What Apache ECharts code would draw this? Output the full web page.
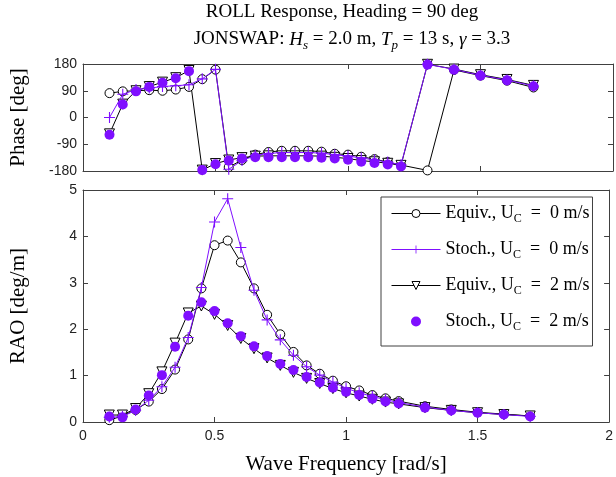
<!DOCTYPE html>
<html>
<head>
<meta charset="utf-8">
<script src="https://cdn.jsdelivr.net/npm/echarts@6/dist/echarts.min.js"></script>
<style>
  html, body { margin: 0; padding: 0; background: #fff; }
  #chart { width: 616px; height: 477px; }
</style>
</head>
<body>
<div id="chart"></div>
<script>
// Wave frequencies [rad/s]
const freq = [0.1, 0.15, 0.2, 0.25, 0.3, 0.35, 0.4, 0.45, 0.5, 0.55, 0.6, 0.65, 0.7, 0.75,
              0.8, 0.85, 0.9, 0.95, 1.0, 1.05, 1.1, 1.15, 1.2, 1.3, 1.4, 1.5, 1.6, 1.7];

// Roll phase [deg]
const phaseEquiv0 = [82, 88, 90, 92, 90, 94, 103, 129, 161, -167, -143, -125, -116, -112,
                     -112, -112, -115, -122, -125, -132, -140, -150, -160, -178, 160, 141, 124, 101];
const phaseStoch0 = [0, 78, 94, 99, 104, 107, 110, 130, 162, -174, -145, -128, -121, -118,
                     -118, -118, -120, -125, -130, -136, -143, -150, -159, 179, 162, 142, 126, 106];
const phaseEquiv2 = [-55, 45, 90, 104, 119, 134, 158, -177, -155, -143, -135, -130, -129, -129,
                     -129, -129, -130, -134, -138, -145, -149, -154, -161, 179, 163, 144, 128, 108];
const phaseStoch2 = [-58, 44, 88, 103, 117, 132, 156, -177, -157, -145, -138, -134, -134, -134,
                     -134, -134, -135, -138, -142, -149, -153, -158, -165, 178, 161, 141, 125, 105];

// Roll RAO [deg/m]
const raoEquiv0 = [0.04, 0.13, 0.26, 0.44, 0.71, 1.13, 1.78, 2.88, 3.81, 3.91, 3.44, 2.88, 2.31, 1.89,
                   1.51, 1.22, 1.04, 0.89, 0.77, 0.68, 0.58, 0.51, 0.45, 0.34, 0.27, 0.21, 0.17, 0.13];
const raoStoch0 = [0.10, 0.12, 0.25, 0.47, 0.76, 1.18, 1.82, 2.90, 4.31, 4.81, 3.76, 2.84, 2.20, 1.77,
                   1.44, 1.19, 1.01, 0.86, 0.73, 0.63, 0.55, 0.48, 0.42, 0.32, 0.25, 0.20, 0.16, 0.12];
const raoEquiv2 = [0.15, 0.15, 0.29, 0.61, 1.08, 1.70, 2.35, 2.50, 2.32, 2.08, 1.80, 1.58, 1.38, 1.22,
                   1.07, 0.94, 0.83, 0.72, 0.63, 0.56, 0.49, 0.43, 0.39, 0.31, 0.25, 0.20, 0.16, 0.13];
const raoStoch2 = [0.12, 0.10, 0.27, 0.57, 1.01, 1.62, 2.29, 2.58, 2.39, 2.13, 1.85, 1.63, 1.42, 1.25,
                   1.12, 0.97, 0.85, 0.74, 0.65, 0.58, 0.50, 0.44, 0.40, 0.31, 0.25, 0.20, 0.16, 0.12];

// Series names and axis ranges
const names = ['Equiv., U_C = 0 m/s', 'Stoch., U_C = 0 m/s', 'Equiv., U_C = 2 m/s', 'Stoch., U_C = 2 m/s'];
const freqRange = { min: 0, max: 2, interval: 0.5 };
const phaseRange = { min: -180, max: 180, interval: 90 };
const raoRange = { min: 0, max: 5, interval: 1 };

const SERIF = '"Liberation Serif", "DejaVu Serif", serif';
const SANS = '"Liberation Sans", Arial, sans-serif';
const PURPLE = '#7f0fff';
const AXIS = '#404040';
const PLUS = 'path://M0,4.5H10V5.5H0Z M4.5,0H5.5V10H4.5Z';

const pairs = ys => freq.map((f, i) => [f, ys[i]]);

function xAxis(grid, position, labels, withName) {
  return {
    type: 'value', gridIndex: grid, position: position,
    min: freqRange.min, max: freqRange.max, interval: freqRange.interval,
    axisLine: { show: true, onZero: false, lineStyle: { color: AXIS, width: 1 } },
    axisTick: { show: true, inside: true, length: 5, lineStyle: { color: AXIS } },
    axisLabel: { show: labels, margin: 7, fontFamily: SANS, fontSize: 14, color: '#222' },
    splitLine: { show: false },
    name: withName ? 'Wave Frequency [rad/s]' : '',
    nameLocation: 'middle', nameGap: 32,
    nameTextStyle: { fontFamily: SERIF, fontSize: 21, color: '#000' }
  };
}

function yAxis(grid, position, range, labels, name) {
  return {
    type: 'value', gridIndex: grid, position: position,
    min: range.min, max: range.max, interval: range.interval,
    axisLine: { show: true, onZero: false, lineStyle: { color: AXIS, width: 1 } },
    axisTick: { show: true, inside: true, length: 5, lineStyle: { color: AXIS } },
    axisLabel: { show: labels, margin: 6, fontFamily: SANS, fontSize: 14, color: '#222' },
    splitLine: { show: false },
    name: name || '', nameLocation: 'middle', nameGap: 54,
    nameTextStyle: { fontFamily: SERIF, fontSize: 21, color: '#000' }
  };
}

// Line with open markers: white fill, thin outline in the line colour
function lineSeries(name, xi, yi, ys, color, symbol, size, extra) {
  return Object.assign({
    type: 'line', name: name, xAxisIndex: xi, yAxisIndex: yi, data: pairs(ys),
    symbol: symbol, symbolSize: size, showAllSymbol: true, z: 2,
    lineStyle: { color: color, width: 1 },
    itemStyle: { color: '#fff', borderColor: color, borderWidth: 1 },
    emphasis: { disabled: true }, silent: true
  }, extra || {});
}

function dotSeries(name, xi, yi, ys) {
  return {
    type: 'scatter', name: name, xAxisIndex: xi, yAxisIndex: yi, data: pairs(ys),
    symbol: 'circle', symbolSize: 10, z: 5,
    itemStyle: { color: PURPLE, opacity: 1 },
    emphasis: { disabled: true }, silent: true
  };
}

const chart = echarts.init(document.getElementById('chart'), null, { renderer: 'canvas' });

chart.setOption({
  animation: false,
  backgroundColor: '#fff',
  title: [
    {
      text: 'ROLL Response, Heading = 90 deg',
      left: 342, top: 3, padding: 0, textAlign: 'center',
      textStyle: { fontFamily: SERIF, fontSize: 19, fontWeight: 'normal', color: '#000' }
    },
    {
      text: 'JONSWAP: {i|H}{is|s} = 2.0 m, {i|T}{is|p} = 13 s, {i|γ} = 3.3',
      left: 352, top: 27, padding: 0, textAlign: 'center',
      textStyle: {
        fontFamily: SERIF, fontSize: 19, fontWeight: 'normal', color: '#000', lineHeight: 25,
        rich: {
          i: { fontFamily: SERIF, fontSize: 19, fontStyle: 'italic', color: '#000', lineHeight: 25 },
          is: { fontFamily: SERIF, fontSize: 13, fontStyle: 'italic', color: '#000', lineHeight: 25, verticalAlign: 'bottom' }
        }
      }
    }
  ],
  legend: {
    orient: 'vertical', left: 381, top: 197,
    padding: [5, 3, 13, 10],
    itemWidth: 49, itemHeight: 10, itemGap: 13,
    borderColor: AXIS, borderWidth: 1, backgroundColor: '#fff',
    selectedMode: false,
    lineStyle: { width: 1 },
    itemStyle: { borderWidth: 1 },
    data: names,
    formatter: n => n.replace('U_C', 'U{sub|C}').replace(' = ', '  =  '),
    textStyle: {
      fontFamily: SERIF, fontSize: 18, color: '#000', lineHeight: 23,
      rich: { sub: { fontFamily: SERIF, fontSize: 12, color: '#000', lineHeight: 23, verticalAlign: 'bottom' } }
    }
  },
  grid: [
    { left: 83, top: 64, width: 530, height: 107 },
    { left: 83, top: 190, width: 530, height: 232 }
  ],
  xAxis: [
    xAxis(0, 'bottom', false, false),
    xAxis(0, 'top', false, false),
    xAxis(1, 'bottom', true, true),
    xAxis(1, 'top', false, false)
  ],
  yAxis: [
    yAxis(0, 'left', phaseRange, true, 'Phase [deg]'),
    yAxis(0, 'right', phaseRange, false),
    yAxis(1, 'left', raoRange, true, 'RAO [deg/m]'),
    yAxis(1, 'right', raoRange, false)
  ],
  series: [
    lineSeries(names[0], 0, 0, phaseEquiv0, '#000', 'circle', 9),
    lineSeries(names[2], 0, 0, phaseEquiv2, '#000', 'triangle', 10, { symbolRotate: 180 }),
    lineSeries(names[1], 0, 0, phaseStoch0, PURPLE, PLUS, 11, { z: 3, itemStyle: { color: PURPLE } }),
    dotSeries(names[3], 0, 0, phaseStoch2),
    lineSeries(names[0], 2, 2, raoEquiv0, '#000', 'circle', 9),
    lineSeries(names[2], 2, 2, raoEquiv2, '#000', 'triangle', 10, { symbolRotate: 180 }),
    lineSeries(names[1], 2, 2, raoStoch0, PURPLE, PLUS, 11, { z: 3, itemStyle: { color: PURPLE } }),
    dotSeries(names[3], 2, 2, raoStoch2)
  ]
});
</script>
</body>
</html>
